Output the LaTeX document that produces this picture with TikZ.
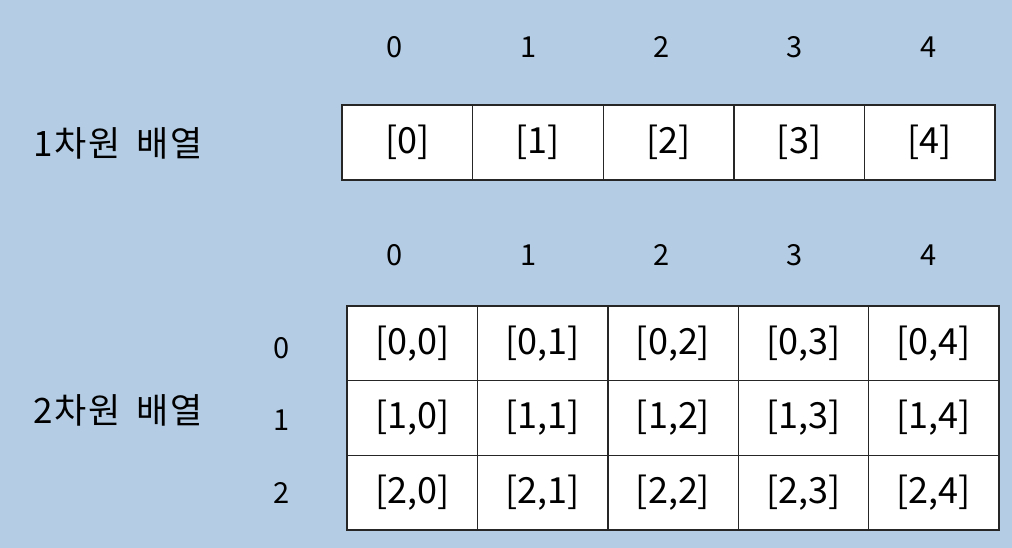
\documentclass[tikz,border=0pt]{standalone}
\usepackage{fontspec}
\setmainfont{Noto Sans CJK KR}
\newfontfamily\titlefont[LetterSpace=5]{Noto Sans CJK KR}
\usepackage{xcolor}
\usepackage{tikz}
\usetikzlibrary{positioning}
\definecolor{bgblue}{RGB}{180,204,228}

\begin{document}
\begin{tikzpicture}[
    x=1pt, y=-1pt,
    cell/.style={rectangle, draw=black!85, fill=white, line width=1.4pt, minimum width=130.6pt, minimum height=75pt, inner sep=0pt, font=\fontsize{36}{38}\selectfont},
    cellb/.style={cell, minimum width=130.4pt, minimum height=74.7pt},
    idx/.style={font=\fontsize{29}{31}\selectfont},
    title/.style={anchor=west, inner sep=0pt, font=\titlefont\fontsize{35}{37}\selectfont}
]
    % Background
    \fill[bgblue] (0,0) rectangle (1012,548);
    \useasboundingbox (0,0) rectangle (1012,548);

    % One-dimensional array
    \node[title] (one) at (33,143) {1차원\hspace{16pt}배열};
    \foreach \i in {0,...,4} {
        \node[idx] (top\i) at (395+133.3*\i,47) {\i};
        \node[cell] (a\i) at (342+130.6*\i+65.3,142.5) {[\i]};
    }

    % Two-dimensional array
    \node[title] (two) at (33,410) {2차원\hspace{16pt}배열};
    \foreach \j in {0,...,4}
        \node[idx] (col\j) at (395+133.3*\j,255) {\j};
    \foreach \i in {0,...,2} {
        \node[idx] (row\i) at (282,348+72.5*\i) {\i};
        \foreach \j in {0,...,4}
            \node[cellb] (b\i\j) at (347+130.4*\j+65.2,306+74.67*\i+37.33) {[\i,\j]};
    }

\end{tikzpicture}
\end{document}
